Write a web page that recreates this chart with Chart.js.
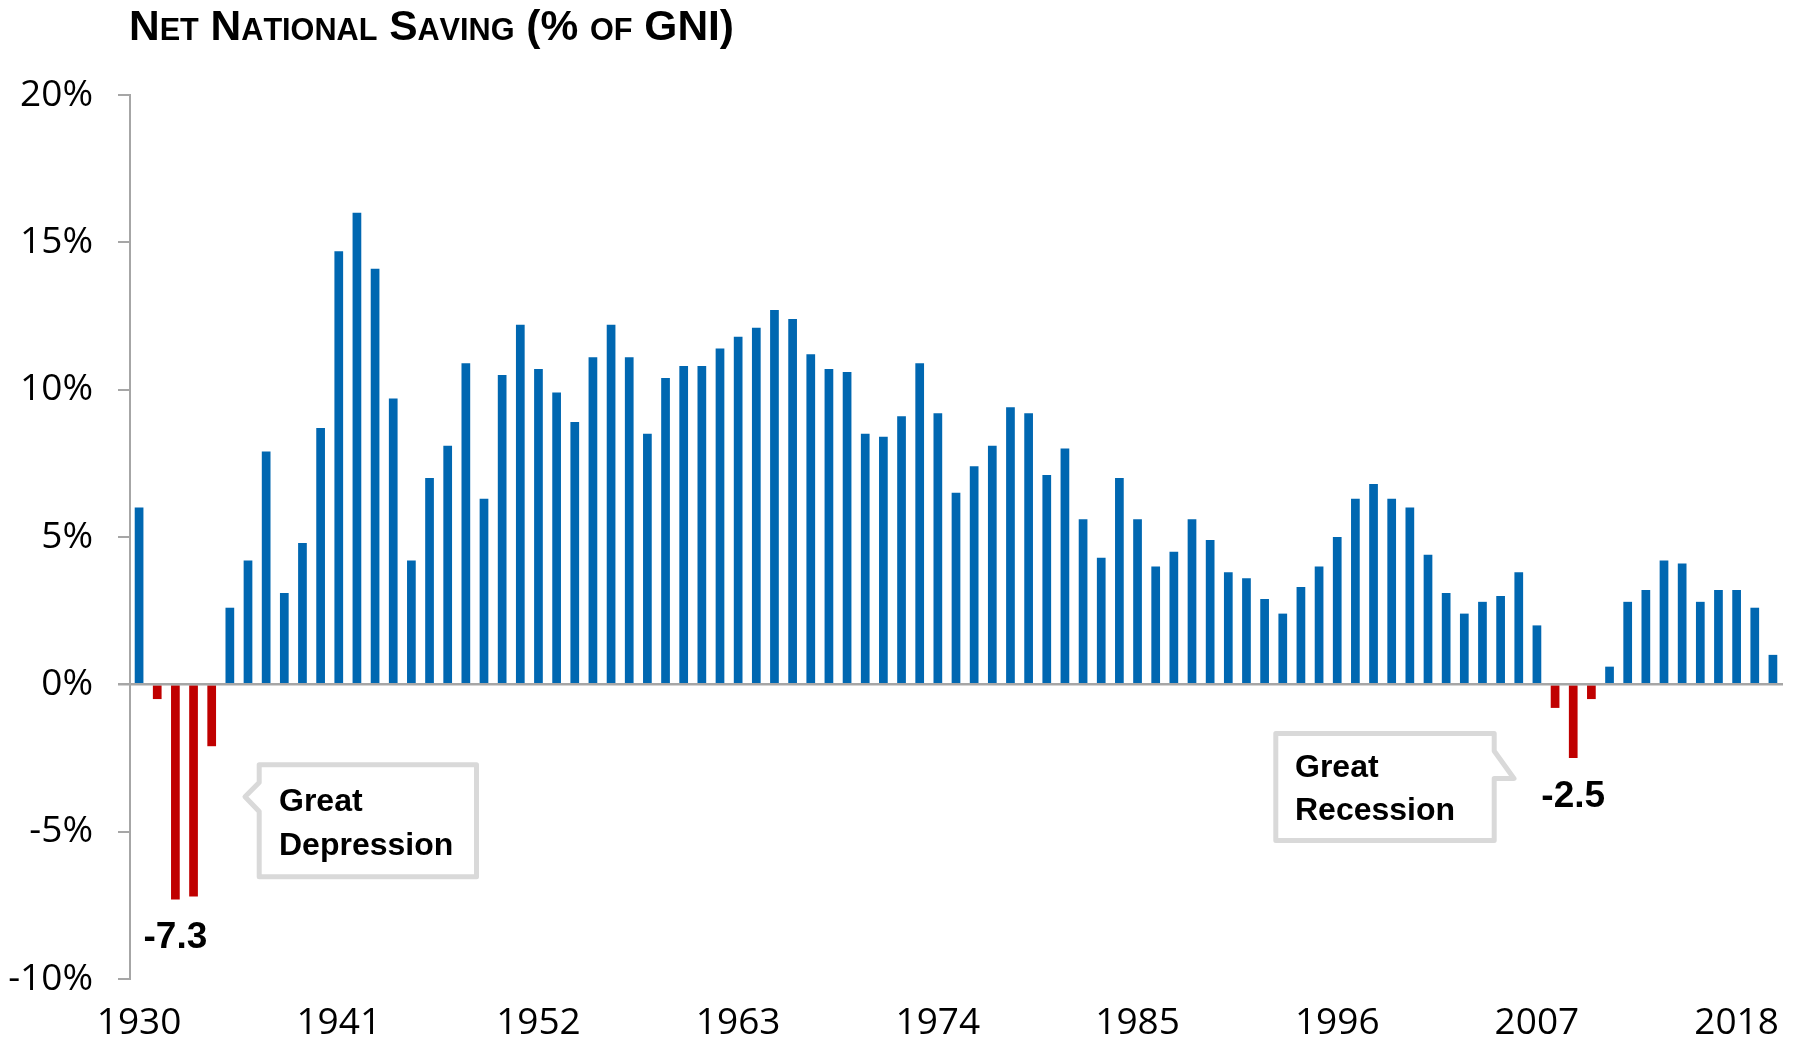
<!DOCTYPE html>
<html>
<head>
<meta charset="utf-8">
<title>Net National Saving (% of GNI)</title>
<script src="https://cdn.jsdelivr.net/npm/chart.js@4.4.1/dist/chart.umd.min.js"></script>
<style>
  html, body { margin: 0; padding: 0; background: #ffffff; }
  #wrap { width: 1799px; height: 1042px; }
</style>
</head>
<body>
<div id="wrap"><canvas id="chart" width="1799" height="1042"></canvas></div>
<script>
// Years on the category axis
const years = [
  1930, 1931, 1932, 1933, 1934, 1935, 1936, 1937, 1938, 1939,
  1940, 1941, 1942, 1943, 1944, 1945, 1946, 1947, 1948, 1949,
  1950, 1951, 1952, 1953, 1954, 1955, 1956, 1957, 1958, 1959,
  1960, 1961, 1962, 1963, 1964, 1965, 1966, 1967, 1968, 1969,
  1970, 1971, 1972, 1973, 1974, 1975, 1976, 1977, 1978, 1979,
  1980, 1981, 1982, 1983, 1984, 1985, 1986, 1987, 1988, 1989,
  1990, 1991, 1992, 1993, 1994, 1995, 1996, 1997, 1998, 1999,
  2000, 2001, 2002, 2003, 2004, 2005, 2006, 2007, 2008, 2009,
  2010, 2011, 2012, 2013, 2014, 2015, 2016, 2017, 2018, 2019,
  2020
];

// Net national saving, percent of gross national income
const savingPct = [
   6.0, -0.5, -7.3, -7.2, -2.1,  2.6,  4.2,  7.9,  3.1,  4.8,
   8.7, 14.7, 16.0, 14.1,  9.7,  4.2,  7.0,  8.1, 10.9,  6.3,
  10.5, 12.2, 10.7,  9.9,  8.9, 11.1, 12.2, 11.1,  8.5, 10.4,
  10.8, 10.8, 11.4, 11.8, 12.1, 12.7, 12.4, 11.2, 10.7, 10.6,
   8.5,  8.4,  9.1, 10.9,  9.2,  6.5,  7.4,  8.1,  9.4,  9.2,
   7.1,  8.0,  5.6,  4.3,  7.0,  5.6,  4.0,  4.5,  5.6,  4.9,
   3.8,  3.6,  2.9,  2.4,  3.3,  4.0,  5.0,  6.3,  6.8,  6.3,
   6.0,  4.4,  3.1,  2.4,  2.8,  3.0,  3.8,  2.0, -0.8, -2.5,
  -0.5,  0.6,  2.8,  3.2,  4.2,  4.1,  2.8,  3.2,  3.2,  2.6,
   1.0
];

// Years that carry a tick label
const xTickYears = [1930, 1941, 1952, 1963, 1974, 1985, 1996, 2007, 2018];

// Value axis range and step (percent)
const yMin = -10;
const yMax = 20;
const yStep = 5;

// Troughs whose values are written under the bar
const calloutYears = [1932, 2009];

// Callout boxes
const calloutTexts = [
  ['Great', 'Depression'],
  ['Great', 'Recession']
];

const chartTitle = 'Net National Saving (% of GNI)';

const BLUE = '#0067b1';
const RED = '#c00000';
const AXIS_GREY = '#a6a6a6';
const BOX_GREY = '#d9d9d9';
const TICK_FONT = '"Open Sans", "Liberation Sans", Arial, sans-serif';
const BOLD_FONT = '"Liberation Sans", Arial, sans-serif';
const TITLE_FONT = '"Liberation Sans Narrow", "Liberation Sans", Arial, sans-serif';

// Title in small caps: capitals at full size, lower-case letters as smaller capitals,
// squeezed horizontally into a condensed face
const titlePlugin = {
  id: 'smallCapsTitle',
  afterDraw(chart) {
    const ctx = chart.ctx;
    const bigSize = 43, smallSize = 31;
    const runs = [];
    for (const ch of chartTitle) {
      const lower = ch !== ch.toUpperCase();
      runs.push({ ch: lower ? ch.toUpperCase() : ch, size: lower ? smallSize : bigSize });
    }
    ctx.save();
    let natural = 0;
    runs.forEach(r => {
      ctx.font = `bold ${r.size}px ${TITLE_FONT}`;
      r.w = ctx.measureText(r.ch).width;
      natural += r.w;
    });
    const left = 129, right = 734, baseline = 40;
    ctx.translate(left, baseline);
    ctx.scale((right - left) / natural, 1);
    ctx.fillStyle = '#000';
    ctx.textAlign = 'left';
    ctx.textBaseline = 'alphabetic';
    let x = 0;
    runs.forEach(r => {
      ctx.font = `bold ${r.size}px ${TITLE_FONT}`;
      ctx.fillText(r.ch, x, 0);
      x += r.w;
    });
    ctx.restore();
  }
};

// Zero line, trough values and the two callout boxes
const calloutPlugin = {
  id: 'callouts',
  afterDatasetsDraw(chart) {
    const ctx = chart.ctx;
    const xs = chart.scales.x, ys = chart.scales.y;
    const y0 = ys.getPixelForValue(0);
    ctx.save();
    ctx.strokeStyle = AXIS_GREY;
    ctx.lineWidth = 2.5;
    ctx.beginPath();
    ctx.moveTo(xs.left - 12, y0);
    ctx.lineTo(xs.right + 1, y0);
    ctx.stroke();
    ctx.restore();
  },
  afterDraw(chart) {
    const ctx = chart.ctx;
    const xs = chart.scales.x, ys = chart.scales.y;
    ctx.save();

    // values written under the deepest bars
    ctx.fillStyle = '#000';
    ctx.font = `bold 37px ${BOLD_FONT}`;
    ctx.textAlign = 'center';
    ctx.textBaseline = 'alphabetic';
    calloutYears.forEach(yr => {
      const i = years.indexOf(yr);
      const v = savingPct[i];
      ctx.fillText(v.toFixed(1), xs.getPixelForValue(i), ys.getPixelForValue(v) + 49);
    });

    // speech-bubble boxes
    ctx.lineWidth = 5;
    ctx.lineJoin = 'round';
    ctx.strokeStyle = BOX_GREY;
    ctx.fillStyle = '#ffffff';

    // Great Depression: tail on the left side
    let L = 259.2, T = 764.8, R = 476.5, B = 876.8;
    ctx.beginPath();
    ctx.moveTo(L, T);
    ctx.lineTo(R, T);
    ctx.lineTo(R, B);
    ctx.lineTo(L, B);
    ctx.lineTo(L, 811.5);
    ctx.lineTo(245, 796.7);
    ctx.lineTo(L, 782.5);
    ctx.closePath();
    ctx.fill();
    ctx.stroke();

    // Great Recession: tail on the right side
    L = 1275.8; T = 733.5; R = 1494.2; B = 840.5;
    ctx.beginPath();
    ctx.moveTo(L, T);
    ctx.lineTo(R, T);
    ctx.lineTo(R, 751);
    ctx.lineTo(1514, 778.5);
    ctx.lineTo(R, 778.5);
    ctx.lineTo(R, B);
    ctx.lineTo(L, B);
    ctx.closePath();
    ctx.fill();
    ctx.stroke();

    ctx.fillStyle = '#000';
    ctx.font = `bold 32px ${BOLD_FONT}`;
    ctx.textAlign = 'left';
    ctx.fillText(calloutTexts[0][0], 279, 810.5);
    ctx.fillText(calloutTexts[0][1], 279, 854.5);
    ctx.fillText(calloutTexts[1][0], 1295, 776.5);
    ctx.fillText(calloutTexts[1][1], 1295, 820);
    ctx.restore();
  }
};

new Chart(document.getElementById('chart'), {
  type: 'bar',
  data: {
    labels: years.map(String),
    datasets: [{
      data: savingPct,
      backgroundColor: c => (c.raw < 0 ? RED : BLUE),
      borderWidth: 0,
      barPercentage: 0.5,
      categoryPercentage: 0.96
    }]
  },
  options: {
    responsive: false,
    devicePixelRatio: 1,
    animation: false,
    layout: { padding: { top: 95, right: 17, bottom: 0, left: 0 } },
    plugins: {
      legend: { display: false },
      title: { display: false },
      tooltip: { enabled: false }
    },
    scales: {
      x: {
        grid: { display: false, drawTicks: false },
        border: { display: false },
        ticks: {
          autoSkip: false,
          maxRotation: 0,
          minRotation: 0,
          padding: 22,
          color: '#000',
          font: { family: TICK_FONT, size: 37 },
          callback(value, index) {
            const yr = years[index];
            return xTickYears.includes(yr) ? String(yr) : '';
          }
        },
        afterFit(scale) { scale.height = 63; }
      },
      y: {
        min: yMin,
        max: yMax,
        ticks: {
          stepSize: yStep,
          padding: 25,
          color: '#000',
          font: { family: TICK_FONT, size: 37 },
          callback: v => v + '%'
        },
        grid: {
          drawOnChartArea: false,
          drawTicks: true,
          tickLength: 12,
          color: AXIS_GREY,
          lineWidth: 2
        },
        border: { display: true, color: AXIS_GREY, width: 2 },
        afterFit(scale) { scale.width = 130; }
      }
    }
  },
  plugins: [titlePlugin, calloutPlugin]
});
</script>
</body>
</html>
